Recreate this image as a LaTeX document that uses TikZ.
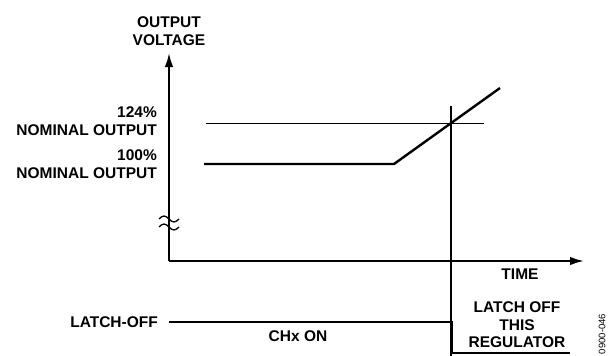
\documentclass[tikz,border=0pt]{standalone}
\usepackage{fontspec}
\setmainfont{Liberation Sans}
\usetikzlibrary{arrows.meta}
\begin{document}
\begin{tikzpicture}[x=1pt,y=-1pt,
  lbl/.style={font=\fontsize{15.5}{17.5}\selectfont\bfseries, inner sep=0pt, align=center},
  axis/.style={line width=2pt, -{Latex[length=14pt,width=8.5pt]}},
  trace/.style={line width=2.4pt, line join=miter},
  thin/.style={line width=1pt},
  marker/.style={line width=1.3pt}]
\useasboundingbox (0,0) rectangle (608,356);
% axes
\coordinate (O) at (169,261);
\coordinate (ytop) at (169,53);
\coordinate (xend) at (584,261);
\draw[axis] (O) -- (ytop);
\draw[axis] (O) -- (xend);
% axis break
\draw[line width=1.3pt] (159,219) sin (164,216) cos (169,219) sin (174,222) cos (179,219);
\draw[line width=1.3pt] (159,227) sin (164,224) cos (169,227) sin (174,230) cos (179,227);
% labels
\node[lbl] (ov) at (169,31) {OUTPUT\\VOLTAGE};
\node[lbl, anchor=east, align=right] (l124) at (157,121) {124\%\\NOMINAL OUTPUT};
\node[lbl, anchor=east, align=right] (l100) at (157,164) {100\%\\NOMINAL OUTPUT};
\node[lbl] (time) at (520,274) {TIME};
% 124% level
\coordinate (a124) at (206,123);
\coordinate (b124) at (484,123);
\draw[thin] (a124) -- (b124);
% output trace
\coordinate (t0) at (204,164);
\coordinate (t1) at (394,164);
\coordinate (t2) at (500,88);
\draw[trace] (t0) -- (t1) -- (t2);
% marker line
\coordinate (m0) at (451,106);
\coordinate (m1) at (451,356);
\draw[marker] (m0) -- (m1);
% latch-off signal
\node[lbl, anchor=east] (lo) at (158,322) {LATCH-OFF};
\coordinate (s0) at (169,322);
\coordinate (s1) at (452,322);
\coordinate (s2) at (452,353);
\coordinate (s3) at (570,353);
\draw[trace] (s0) -- (s1) -- (s2) -- (s3);
\node[lbl] (chx) at (298,336) {CHx ON};
\node[lbl] (lt) at (517,325) {LATCH OFF\\THIS\\REGULATOR};
\node[font=\fontsize{9.5}{10}\selectfont, rotate=90, inner sep=0pt] (code) at (602,334) {0900-046};
\end{tikzpicture}
\end{document}
